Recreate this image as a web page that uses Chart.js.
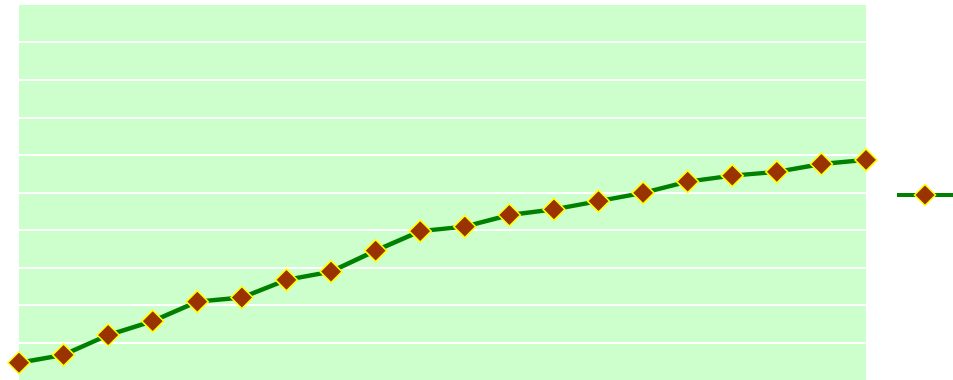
<!DOCTYPE html>
<html>
<head>
<meta charset="utf-8">
<script src="https://cdn.jsdelivr.net/npm/chart.js@4"></script>
<style>
  html, body { margin: 0; padding: 0; background: #ffffff; }
  #wrap { width: 953px; height: 380px; position: relative; }
</style>
</head>
<body>
<div id="wrap"><canvas id="Chart"></canvas></div>
<script>
// categories (no visible labels in the picture)
const categories = ['1', '2', '3', '4', '5', '6', '7', '8', '9', '10',
                    '11', '12', '13', '14', '15', '16', '17', '18', '19', '20'];
// values (axis 0..10)
const seriesValues = [0.46, 0.67, 1.2, 1.57, 2.09, 2.2, 2.67, 2.89, 3.45, 3.97,
                      4.09, 4.4, 4.55, 4.77, 4.99, 5.29, 5.45, 5.55, 5.76, 5.87];
const yTicks = [0, 1, 2, 3, 4, 5, 6, 7, 8, 9, 10];

const lineColor = '#008000';
const pointFill = '#993300';
const pointEdge = '#ffff00';

// green plot background
const plotBackground = {
    id: 'plotBackground',
    beforeDraw(chart) {
        const { ctx, chartArea } = chart;
        ctx.save();
        ctx.fillStyle = '#ccffcc';
        ctx.fillRect(chartArea.left, chartArea.top, chartArea.right - chartArea.left, chartArea.bottom - chartArea.top);
        ctx.restore();
    }
};

// legend on the right: a line sample with a diamond, no text
const lineLegend = {
    id: 'lineLegend',
    afterDraw(chart) {
        const { ctx, chartArea } = chart;
        const y = (chartArea.top + chartArea.bottom) / 2 + 2.5;
        const x0 = chartArea.right + 31;
        const x1 = chart.width;
        ctx.save();
        ctx.strokeStyle = lineColor;
        ctx.lineWidth = 4;
        ctx.beginPath();
        ctx.moveTo(x0, y);
        ctx.lineTo(x1, y);
        ctx.stroke();
        ctx.fillStyle = pointFill;
        ctx.strokeStyle = pointEdge;
        ctx.lineWidth = 1.5;
        Chart.helpers.drawPoint(ctx, { pointStyle: 'rectRot', radius: 10.5, borderWidth: 1.5 }, (x0 + x1) / 2, y);
        ctx.restore();
    }
};

const ctx = document.getElementById('Chart').getContext('2d');
const myChart = new Chart(ctx, {
    type: 'line',
    data: {
        labels: categories,
        datasets: [{
            data: seriesValues,
            borderColor: lineColor,
            borderWidth: 4.5,
            tension: 0,
            pointStyle: 'rectRot',
            pointRadius: 11,
            pointBackgroundColor: pointFill,
            pointBorderColor: pointEdge,
            pointBorderWidth: 1.5,
            clip: false
        }]
    },
    options: {
        responsive: true,
        maintainAspectRatio: false,
        animation: false,
        layout: { autoPadding: false, padding: { left: 19, top: 5, right: 87, bottom: 0 } },
        plugins: {
            legend: { display: false },
            tooltip: { enabled: false }
        },
        scales: {
            x: { display: false, offset: false },
            y: {
                min: yTicks[0],
                max: yTicks[yTicks.length - 1],
                afterBuildTicks: axis => { axis.ticks = yTicks.map(v => ({ value: v })); },
                ticks: { display: false },
                border: { display: false },
                grid: {
                    drawTicks: false,
                    lineWidth: 2,
                    color: c => (c.tick.value === yTicks[0] || c.tick.value === yTicks[yTicks.length - 1]) ? 'rgba(0,0,0,0)' : '#ffffff'
                }
            }
        }
    },
    plugins: [plotBackground, lineLegend]
});
</script>
</body>
</html>
